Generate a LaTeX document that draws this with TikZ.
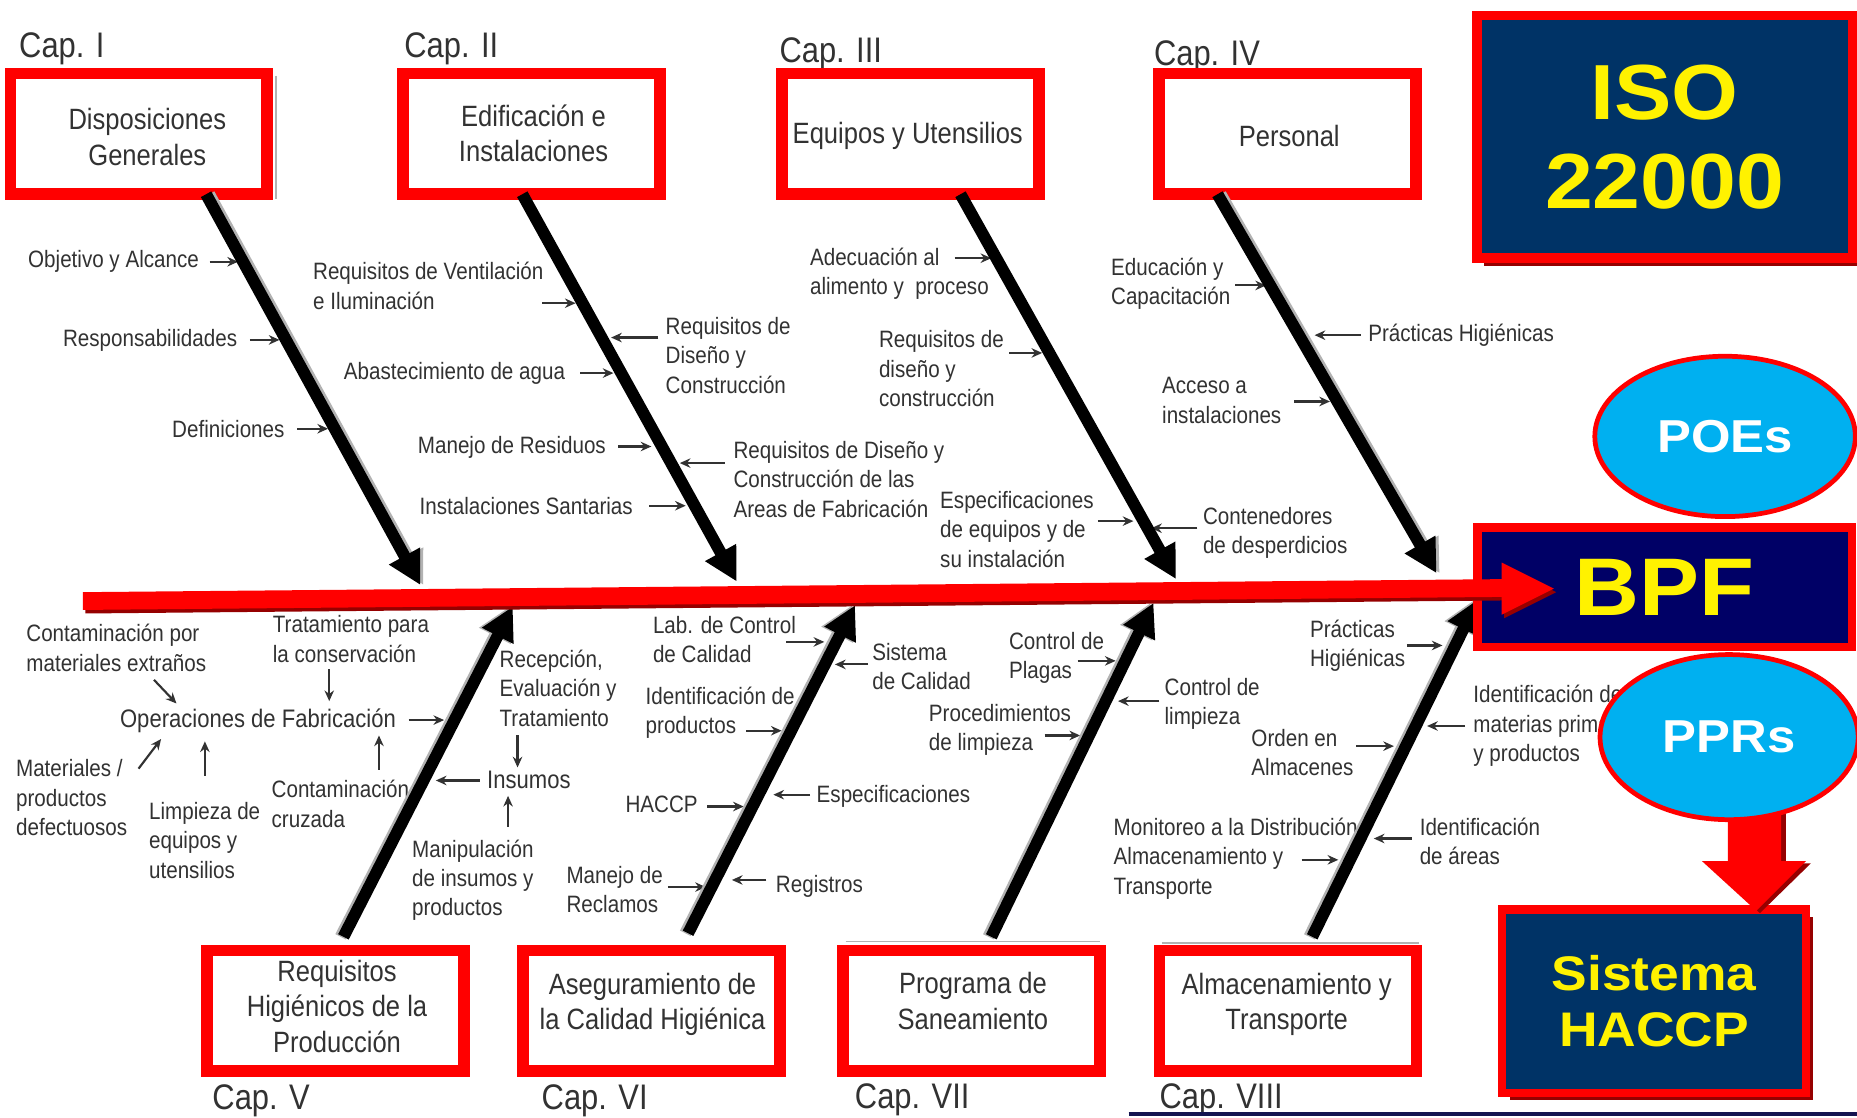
\documentclass[tikz,border=0pt]{standalone}
\usepackage{fontspec}
\setmainfont{Liberation Sans}
\newfontfamily\lblfont[FakeStretch=0.87]{Liberation Sans}
\newfontfamily\bigfont[FakeStretch=1.1]{Liberation Sans}
\usetikzlibrary{arrows.meta,shapes.geometric,shadows}
\definecolor{navybox}{RGB}{0,51,102}
\definecolor{bpfnavy}{RGB}{0,0,102}
\definecolor{cyanfill}{RGB}{0,176,240}
\definecolor{shadered}{RGB}{150,0,0}
\definecolor{inkgray}{RGB}{50,50,50}
\definecolor{rulenavy}{RGB}{20,20,80}

\begin{document}
\begin{tikzpicture}[x=0.5pt,y=-0.5pt,
  lbl/.style={font=\lblfont\fontsize{10}{12.4}\selectfont, text=inkgray, inner sep=0pt, anchor=west, align=left},
  lblbig/.style={lbl, font=\lblfont\fontsize{10.7}{13}\selectfont},
  tick/.style={draw=inkgray, line width=0.9pt, -{Stealth[length=4.5pt,width=4pt]}},
  bone/.style={draw=black, line width=5pt, -{Triangle[length=14pt,width=14pt]}},
  boneshade/.style={draw=gray!60, line width=5pt, -{Triangle[length=14pt,width=14pt]}},
  capbox/.style={draw=red, line width=5pt, fill=white, inner sep=0pt,
    minimum width=108.5pt, minimum height=51pt},
  boxtext/.style={font=\lblfont\fontsize{12.4}{15}\selectfont, text=inkgray, align=center, inner sep=0pt},
  caplbl/.style={font=\lblfont\fontsize{15}{18}\selectfont, text=inkgray, anchor=base west, inner sep=0pt},
  bigbox/.style={draw=red, text=yellow, align=center, inner sep=0pt, font=\bigfont\bfseries},
  bubble/.style={ellipse, draw=red, line width=2pt, fill=cyanfill, text=white, inner sep=0pt,
    font=\bigfont\bfseries\fontsize{19.5}{22}\selectfont},
  redshadow/.style={drop shadow={shadow xshift=3.2pt, shadow yshift=-3.2pt, fill=shadered, opacity=1}},
]
\useasboundingbox (0,0) rectangle (1568,944);
\fill[white] (0,0) rectangle (1568,944);

% chapter captions
\node[caplbl] (k1) at (15.8,48.5) {Cap. I};
\node[caplbl] (k2) at (341,48.5) {Cap. II};
\node[caplbl] (k3) at (657.8,53) {Cap. III};
\node[caplbl] (k4) at (974,55) {Cap. IV};
\node[caplbl] (k5) at (179,937) {Cap. V};
\node[caplbl] (k6) at (457,937) {Cap. VI};
\node[caplbl] (k7) at (721.5,936) {Cap. VII};
\node[caplbl] (k8) at (978.7,936) {Cap. VIII};

% traces of the original grey frames
\draw[gray!60, line width=0.8pt] (233,64) -- (233,168);
\draw[gray!60, line width=0.8pt] (714,795) -- (929,795);
\draw[gray!60, line width=0.8pt] (716,896.7) -- (923,896.7);
\draw[gray!60, line width=0.8pt] (981,796) -- (1198,796);

% branch I labels
\node[lbl] (l11) at (23.4,221) {Objetivo y Alcance};
\node[lbl] (l12) at (52.8,287) {Responsabilidades};
\node[lbl] (l13) at (145,362) {Definiciones};
\draw[tick] (177,221) -- (201,221);
\draw[tick] (211,287) -- (236,287);
\draw[tick] (251,362) -- (277,362);

% branch II labels
\node[lbl] (l21) at (264,241.5) {Requisitos de Ventilación\\e Iluminación};
\node[lbl] (l22) at (561.7,300) {Requisitos de\\Diseño y\\Construcción};
\node[lbl] (l23) at (290,315) {Abastecimiento de agua};
\node[lbl] (l24) at (352.5,377.4) {Manejo de Residuos};
\node[lbl] (l25) at (619,404.8) {Requisitos de Diseño y\\Construcción de las\\Areas de Fabricación};
\node[lbl] (l26) at (354,427) {Instalaciones Santarias};
\draw[tick] (458,256) -- (486,256);
\draw[tick] (556,285) -- (516,285);
\draw[tick] (490,315) -- (518,315);
\draw[tick] (522,377) -- (550,377);
\draw[tick] (612,391) -- (574,391);
\draw[tick] (548,427) -- (579,427);

% branch III labels
\node[lbl] (l31) at (683.6,231) {Adecuación al\\alimento y\ \ proceso};
\node[lbl] (l32) at (741.8,311.3) {Requisitos de\\diseño y\\construcción};
\node[lbl] (l33) at (793.5,447) {Especificaciones\\de equipos y de\\su instalación};
\node[lbl] (l34) at (1015.4,450) {Contenedores\\de desperdicios};
\draw[tick] (806,218) -- (837,218);
\draw[tick] (852,298) -- (880,298);
\draw[tick] (927,440) -- (957,440);
\draw[tick] (1011,446) -- (972,446);

% branch IV labels
\node[lbl] (l41) at (937.8,239.6) {Educación y\\Capacitación};
\node[lbl] (l42) at (1155,282.7) {Prácticas Higiénicas};
\node[lbl] (l43) at (980.9,338) {Acceso a\\instalaciones};
\draw[tick] (1043,241) -- (1069,241);
\draw[tick] (1149,283) -- (1110,283);
\draw[tick] (1093,339) -- (1123,339);

% branch V labels
\node[lbl] (l51) at (21.9,547) {Contaminación por\\materiales extraños};
\node[lbl] (l52) at (230,539.7) {Tratamiento para\\la conservación};
\node[lblbig] (l53) at (101,608.5) {Operaciones de Fabricación};
\node[lbl] (l54) at (13.2,673.7) {Materiales /\\productos\\defectuosos};
\node[lbl] (l55) at (125.5,709.4) {Limpieza de\\equipos y\\utensilios};
\node[lbl] (l56) at (229,678.7) {Contaminación\\cruzada};
\node[lbl] (l57) at (421.5,581) {Recepción,\\Evaluación y\\Tratamiento};
\node[lblbig] (l58) at (411,658.6) {Insumos};
\node[lbl] (l59) at (347.6,743.2) {Manipulación\\de insumos y\\productos};
\draw[tick] (130,574) -- (149,594);
\draw[tick] (278,565) -- (278,592);
\draw[tick] (345,608) -- (375,608);
\draw[tick] (117,649) -- (136,624);
\draw[tick] (173,655) -- (173,626);
\draw[tick] (320,650) -- (320,621);
\draw[tick] (437,621) -- (437,648);
\draw[tick] (405,659) -- (368,659);
\draw[tick] (429,698) -- (429,672);

% branch VI labels
\node[lbl] (l61) at (551,540) {Lab. de Control\\de Calidad};
\node[lbl] (l62) at (736.2,562.9) {Sistema\\de Calidad};
\node[lbl] (l63) at (544.8,602) {Identificación de\\productos};
\node[lbl] (l64) at (689.2,672.2) {Especificaciones};
\node[lbl] (l65) at (527.8,679.5) {HACCP};
\node[lbl] (l66) at (478,751) {Manejo de\\Reclamos};
\node[lbl] (l67) at (654.8,748.4) {Registros};
\draw[tick] (664,542) -- (696,542);
\draw[tick] (733,561) -- (705,561);
\draw[tick] (630,617) -- (660,617);
\draw[tick] (684,671) -- (653,671);
\draw[tick] (597,681) -- (628,681);
\draw[tick] (564,749) -- (596,749);
\draw[tick] (647,743) -- (618,743);

% branch VII labels
\node[lbl] (l71) at (851.6,555.6) {Control de\\Plagas};
\node[lbl] (l72) at (983,594.4) {Control de\\limpieza};
\node[lbl] (l73) at (784,616.5) {Procedimientos\\de limpieza};
\draw[tick] (910,558) -- (942,558);
\draw[tick] (979,592) -- (944,592);
\draw[tick] (882,621) -- (912,621);

% branch VIII labels
\node[lbl] (l81) at (1105.8,545) {Prácticas\\Higiénicas};
\node[lbl] (l82) at (1243.7,613) {Identificación de\\materias primas\\y productos};
\node[lbl] (l83) at (1056.3,635.5) {Orden en\\Almacenes};
\node[lbl] (l84) at (940,724.8) {Monitoreo a la Distribución\\Almacenamiento y\\Transporte};
\node[lbl] (l85) at (1198.4,710.3) {Identificación\\de áreas};
\draw[tick] (1188,545) -- (1218,545);
\draw[tick] (1237,613) -- (1205,613);
\draw[tick] (1145,630) -- (1177,630);
\draw[tick] (1099,726) -- (1130,726);
\draw[tick] (1192,708) -- (1160,708);

% chapter boxes and their titles
\node[capbox] (b1) at (117.3,113) {};
\node[capbox] (b2) at (448.9,113) {};
\node[capbox] (b3) at (768.5,113) {};
\node[capbox] (b4) at (1087.3,113) {};
\node[capbox] (b5) at (283.2,853.5) {};
\node[capbox] (b6) at (550,853.5) {};
\node[capbox] (b7) at (820,853.5) {};
\node[capbox] (b8) at (1087.5,853.5) {};
\node[boxtext] (t1) at (124.4,115.5) {Disposiciones\\Generales};
\node[boxtext] (t2) at (450.5,112.5) {Edificación e\\Instalaciones};
\node[boxtext] (t3) at (766.5,115) {Equipos y Utensilios};
\node[boxtext] (t4) at (1088.6,115) {Personal};
\node[boxtext] (t5) at (284.6,849.5) {Requisitos\\Higiénicos de la\\Producción};
\node[boxtext] (t6) at (551,848) {Aseguramiento de\\la Calidad Higiénica};
\node[boxtext] (t7) at (821.5,845) {Programa de\\Saneamiento};
\node[boxtext] (t8) at (1086.4,848) {Almacenamiento y\\Transporte};

% bone ends
\coordinate (s1) at (174,164);   \coordinate (e1) at (355,494);
\coordinate (s2) at (441,164);   \coordinate (e2) at (622,491);
\coordinate (s3) at (811,164);   \coordinate (e3) at (993,489);
\coordinate (s4) at (1028,164);  \coordinate (e4) at (1213,484);
\coordinate (s5) at (290,791);   \coordinate (e5) at (433,512);
\coordinate (s6) at (581,788);   \coordinate (e6) at (722,511);
\coordinate (s7) at (837,791);   \coordinate (e7) at (974,509);
\coordinate (s8) at (1108,791);  \coordinate (e8) at (1248,506);

% bones with a grey edge
\draw[boneshade, transform canvas={xshift=1.3pt}] (s1) -- (e1);
\draw[boneshade, transform canvas={xshift=1.3pt}] (s4) -- (e4);
\draw[boneshade, transform canvas={xshift=-1.2pt}] (s5) -- (e5);
\draw[boneshade, transform canvas={xshift=-1.2pt}] (s6) -- (e6);
\draw[boneshade, transform canvas={xshift=-1.2pt}] (s7) -- (e7);
\draw[boneshade, transform canvas={xshift=-1.2pt}] (s8) -- (e8);
\foreach \i in {1,...,8} { \draw[bone] (s\i) -- (e\i); }

% BPF target
\node[bigbox, fill=bpfnavy, line width=3.5pt, minimum width=158pt, minimum height=50.3pt,
  font=\bigfont\bfseries\fontsize{34.5}{40}\selectfont] (bpf) at (1405.5,495.7) {BPF};

% spine
\fill[shadered] (72,503) -- (1270,492) -- (1270,478) -- (1314,500) -- (1270,522) -- (1270,507) -- (72,518) -- cycle;
\fill[red] (70,500) -- (1268,489) -- (1268,475) -- (1312,497) -- (1268,519) -- (1268,504) -- (70,515) -- cycle;

% ISO 22000
\node[bigbox, redshadow, fill=navybox, line width=4pt, minimum width=158.6pt, minimum height=102.5pt,
  font=\bigfont\bfseries\fontsize{33}{37.5}\selectfont] (iso) at (1405.6,115.5) {ISO\\22000};

% POEs
\node[bubble, minimum width=110pt, minimum height=67.7pt] (poe) at (1456.6,368.5) {POEs};

% Sistema HACCP
\node[bigbox, redshadow, fill=navybox, line width=3.5pt, minimum width=128.1pt, minimum height=77.4pt,
  font=\bigfont\bfseries\fontsize{20.5}{23.8}\selectfont] (haccp) at (1396.6,845.4) {Sistema\\HACCP};

% arrow from PPRs to HACCP
\fill[shadered] (1463,682) -- (1508,682) -- (1508,729) -- (1529,729) -- (1486,771) -- (1441,729) -- (1463,729) -- cycle;
\fill[red] (1459,680) -- (1504,680) -- (1504,727) -- (1525,727) -- (1483,769) -- (1437,727) -- (1459,727) -- cycle;

% PPRs
\node[bubble, minimum width=109pt, minimum height=69.7pt] (ppr) at (1460,622.4) {PPRs};

% rule at the foot
\draw[rulenavy, line width=1.7pt] (953,940.5) -- (1568,940.5);
\end{tikzpicture}
\end{document}
